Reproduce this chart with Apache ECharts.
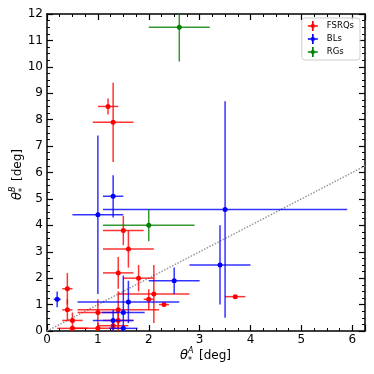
<!DOCTYPE html>
<html>
<head>
<meta charset="utf-8">
<script src="https://cdn.jsdelivr.net/npm/echarts@6/dist/echarts.min.js"></script>
<style>
  html, body { margin: 0; padding: 0; background: #fff; }
  #chart { width: 374px; height: 374px; }
</style>
</head>
<body>
<div id="chart"></div>
<script>
// [x, y, xerr, yerr]
var fsrqs = [
  [0.4, 1.6, 0.1, 0.6],
  [0.4, 0.8, 0.1, 0.4],
  [0.5, 0.4, 0.2, 0.3],
  [0.5, 0.1, 0.3, 0.1],
  [1.0, 0.7, 0.4, 0.5],
  [1.0, 0.1, 0.5, 0.2],
  [1.3, 0.2, 0.3, 0.2],
  [1.4, 0.4, 0.3, 0.4],
  [1.4, 0.8, 0.8, 0.7],
  [1.4, 2.2, 0.3, 0.6],
  [1.5, 3.8, 0.4, 0.55],
  [1.6, 3.1, 0.5, 0.7],
  [1.8, 2.0, 0.3, 0.5],
  [2.0, 1.2, 0.1, 0.38],
  [2.1, 1.4, 0.7, 1.1],
  [2.3, 1.0, 0.1, 0.05],
  [3.7, 1.3, 0.2, 0.05],
  [1.2, 8.5, 0.2, 0.3],
  [1.3, 7.9, 0.4, 1.5]
];
var bls = [
  [0.2, 1.2, 0.07, 0.3],
  [1.0, 4.4, 0.5, 3.0],
  [1.3, 5.1, 0.2, 0.8],
  [3.5, 4.6, 2.4, 4.1],
  [3.4, 2.5, 0.6, 1.5],
  [2.5, 1.9, 0.5, 0.5],
  [1.6, 1.1, 1.0, 0.8],
  [1.5, 0.7, 0.42, 1.4],
  [1.3, 0.4, 0.4, 0.4],
  [1.5, 0.1, 0.28, 0.1]
];
var rgs = [
  [2.6, 11.5, 0.6, 1.3],
  [2.0, 4.0, 0.9, 0.6]
];
var oneToOne = [[0, 0], [6.25, 6.25]];
var xTicks = [0, 1, 2, 3, 4, 5, 6];

var font = 'DejaVu Sans';
var crossIcon = 'path://M5,0H7V4H8V5H12V7H8V8H7V12H5V8H4V7H0V5H4V4H5Z';

function errBar(params, api) {
  var x = api.value(0), y = api.value(1), ex = api.value(2), ey = api.value(3);
  var c = api.coord([x, y]);
  var l = api.coord([x - ex, y]), r = api.coord([x + ex, y]);
  var t = api.coord([x, y + ey]), b = api.coord([x, Math.max(y - ey, 0)]);
  var color = api.visual('color');
  return {
    type: 'group',
    children: [
      {type: 'line', shape: {x1: l[0], y1: l[1], x2: r[0], y2: r[1]},
       style: {stroke: color, lineWidth: 1.5, opacity: 0.8}},
      {type: 'line', shape: {x1: t[0], y1: t[1], x2: b[0], y2: b[1]},
       style: {stroke: color, lineWidth: 1.5, opacity: 0.8}},
      {type: 'circle', shape: {cx: c[0], cy: c[1], r: 2.5}, style: {fill: color}}
    ]
  };
}

function axisX(pos) {
  return {
    type: 'value', position: pos, min: 0, max: 6.25, interval: 1,
    axisLine: {onZero: false, lineStyle: {color: '#000', width: 1.5}},
    axisTick: {inside: true, length: 6, lineStyle: {color: '#000', width: 1.2}},
    minorTick: {show: true, splitNumber: 4, length: 3, lineStyle: {color: '#000', width: 1}},
    splitLine: {show: false},
    axisLabel: {
      show: pos === 'bottom', color: '#000', fontSize: 12, fontFamily: font, margin: 3,
      showMaxLabel: false,
      formatter: function (v) { return xTicks.indexOf(v) >= 0 ? String(v) : ''; }
    }
  };
}
function axisY(pos) {
  return {
    type: 'value', position: pos, min: 0, max: 12, interval: 1,
    axisLine: {onZero: false, lineStyle: {color: '#000', width: 1.5}},
    axisTick: {inside: true, length: 6, lineStyle: {color: '#000', width: 1.2}},
    minorTick: {show: true, splitNumber: 4, length: 3, lineStyle: {color: '#000', width: 1}},
    splitLine: {show: false},
    axisLabel: {show: pos === 'left', color: '#000', fontSize: 12, fontFamily: font, margin: 4}
  };
}

var chart = echarts.init(document.getElementById('chart'));

chart.setOption({
  animation: false,
  grid: {left: 47, right: 9, top: 14, bottom: 43},
  xAxis: [axisX('bottom'), axisX('top')],
  yAxis: [axisY('left'), axisY('right')],
  legend: {
    orient: 'vertical', right: 14, top: 18,
    itemWidth: 10, itemHeight: 10, itemGap: 3,
    padding: [3, 6, 3, 6],
    borderColor: '#ccc', borderWidth: 1, borderRadius: 3,
    backgroundColor: 'rgba(255,255,255,0.8)',
    textStyle: {fontSize: 8.5, fontFamily: font, color: '#000', padding: [0, 0, 0, 4]},
    data: [
      {name: 'FSRQs', icon: crossIcon},
      {name: 'BLs', icon: crossIcon},
      {name: 'RGs', icon: crossIcon}
    ]
  },
  graphic: [
    {
      type: 'group', x: 205, y: 356,
      children: [
        {type: 'text', x: -25, y: 0, style: {text: 'θ', font: 'italic 13px DejaVu Sans', fill: '#000', verticalAlign: 'middle'}},
        {type: 'text', x: -17, y: -5, style: {text: 'A', font: 'italic 8px DejaVu Sans', fill: '#000', verticalAlign: 'middle'}},
        {type: 'text', x: -17, y: 5, style: {text: '*', font: '8px DejaVu Sans', fill: '#000', verticalAlign: 'middle'}},
        {type: 'text', x: -6, y: 0, style: {text: '[deg]', font: '12px DejaVu Sans', fill: '#000', verticalAlign: 'middle'}}
      ]
    },
    {
      type: 'group', x: 18, y: 173, rotation: Math.PI / 2,
      children: [
        {type: 'text', x: -27, y: 0, style: {text: 'θ', font: 'italic 13px DejaVu Sans', fill: '#000', verticalAlign: 'middle'}},
        {type: 'text', x: -19, y: -5, style: {text: 'B', font: 'italic 8px DejaVu Sans', fill: '#000', verticalAlign: 'middle'}},
        {type: 'text', x: -19, y: 5, style: {text: '*', font: '8px DejaVu Sans', fill: '#000', verticalAlign: 'middle'}},
        {type: 'text', x: -8, y: 0, style: {text: '[deg]', font: '12px DejaVu Sans', fill: '#000', verticalAlign: 'middle'}}
      ]
    }
  ],
  series: [
    {
      type: 'line', data: oneToOne, symbol: 'none', silent: true, clip: true,
      lineStyle: {color: '#999', width: 1.5, type: 'dotted'}, z: 1
    },
    {name: 'FSRQs', type: 'custom', renderItem: errBar, data: fsrqs, clip: true,
     encode: {x: 0, y: 1}, itemStyle: {color: '#ff0000'}, z: 2},
    {name: 'BLs', type: 'custom', renderItem: errBar, data: bls, clip: true,
     encode: {x: 0, y: 1}, itemStyle: {color: '#0000ff'}, z: 3},
    {name: 'RGs', type: 'custom', renderItem: errBar, data: rgs, clip: true,
     encode: {x: 0, y: 1}, itemStyle: {color: '#008000'}, z: 4}
  ]
});
</script>
</body>
</html>
